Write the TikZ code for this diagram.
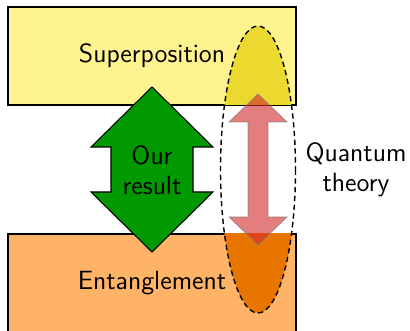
\documentclass[tikz,border=0pt]{standalone}
\usetikzlibrary{arrows.meta, positioning}

\definecolor{superfill}{RGB}{255,243,143}
\definecolor{superdark}{RGB}{235,217,47}
\definecolor{entfill}{RGB}{255,179,102}
\definecolor{entdark}{RGB}{232,117,0}
\definecolor{ourgreen}{RGB}{0,153,0}
\definecolor{qtred}{RGB}{210,40,40}

\tikzset{lbl/.style={font=\fontsize{15}{17}\selectfont\sffamily, align=center}}

\begin{document}
\begin{tikzpicture}[x=0.02cm, y=-0.02cm]
    \clip (0,0) rectangle (410,331);
    \draw[semithick, fill=superfill] (8,7) rectangle (296,105);
    \draw[semithick, fill=entfill] (8,234) rectangle (296,340);

    \begin{scope}
        \clip (258,169.5) ellipse [x radius=37.5, y radius=143.5];
        \fill[superdark] (7.5,6.5) rectangle (296.5,105.5);
        \fill[entdark] (7.5,233.5) rectangle (296.5,340);
    \end{scope}

    \node[lbl] (super) at (152,56) {Superposition};
    \node[lbl] (ent) at (152,283) {Entanglement};

    \draw[semithick, fill=ourgreen] (152,87) -- (213,147) -- (193,147) -- (193,192) -- (213,192)
        -- (152,252) -- (91,192) -- (111,192) -- (111,147) -- (91,147) -- cycle;
    \node[lbl] (ours) at (152,170) {Our\\result};

    \draw[fill=qtred, fill opacity=0.6, draw=gray, draw opacity=0.8] (258,94) -- (287,122) -- (268,122)
        -- (268,217) -- (287,217) -- (258,245) -- (229,217) -- (248,217) -- (248,122) -- (229,122) -- cycle;

    \draw[thick, dash pattern=on 3pt off 2pt] (258,169.5) ellipse [x radius=37.5, y radius=143.5];
    \node[lbl] (qt) at (356,170) {Quantum\\theory};
\end{tikzpicture}
\end{document}
